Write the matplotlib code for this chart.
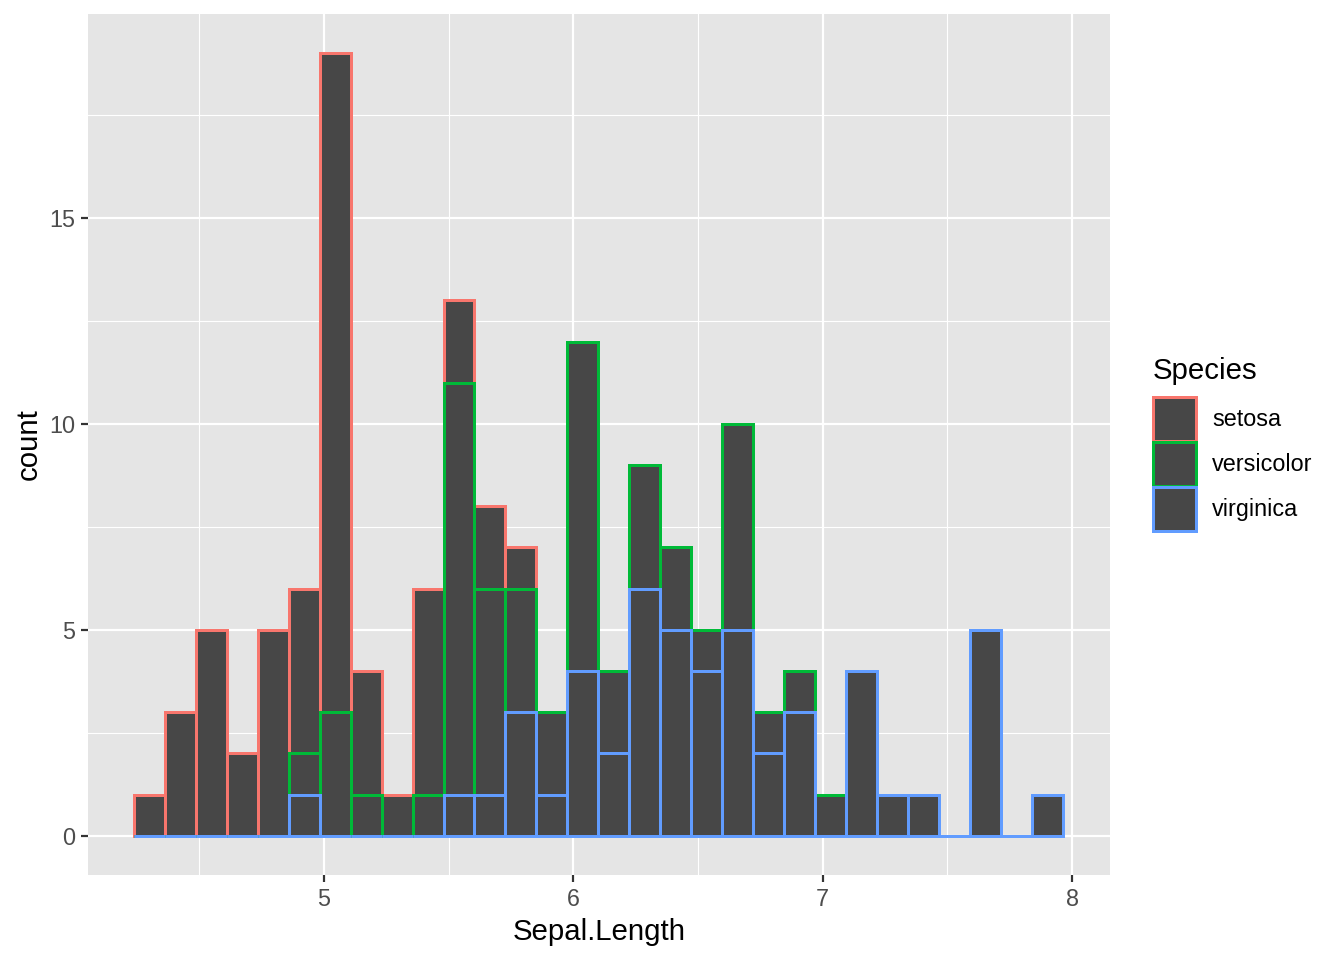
import numpy as np
import matplotlib.pyplot as plt
from matplotlib.patches import Patch

plt.rcParams['font.family'] = ['Liberation Sans', 'DejaVu Sans']

# 30 bins over Sepal.Length, 4.3 .. 7.9 (ggplot default binning)
x_min, x_max, n_bins = 4.3, 7.9, 30
species = ["setosa", "versicolor", "virginica"]
colors = ["#F8766D", "#00BA38", "#619CFF"]

setosa = [1, 3, 5, 2, 5, 4, 16, 3, 1, 5, 2, 2, 1, 0, 0,
          0, 0, 0, 0, 0, 0, 0, 0, 0, 0, 0, 0, 0, 0, 0]
versicolor = [0, 0, 0, 0, 0, 1, 3, 1, 0, 1, 10, 5, 3, 2, 8,
              2, 3, 2, 1, 5, 1, 1, 1, 0, 0, 0, 0, 0, 0, 0]
virginica = [0, 0, 0, 0, 0, 1, 0, 0, 0, 0, 1, 1, 3, 1, 4,
             2, 6, 5, 4, 5, 2, 3, 0, 4, 1, 1, 0, 5, 0, 1]

width = (x_max - x_min) / (n_bins - 1)
centers = x_min + width * np.arange(n_bins)

fig = plt.figure(figsize=(1344 / 144, 960 / 144), dpi=144)
ax = fig.add_axes([88 / 1344, 1 - 875 / 960, (1110 - 88) / 1344, (875 - 14) / 960])
ax.set_facecolor('#E5E5E5')

# stacking: virginica at the bottom, setosa on top
vir = np.array(virginica)
ver = np.array(versicolor)
set_ = np.array(setosa)
bottoms = [vir + ver, vir, np.zeros(n_bins)]
counts = [set_, ver, vir]

for cnt, bot, col in zip(counts, bottoms, colors):
    ax.bar(centers, cnt, bottom=bot, width=width, color='#474747',
           edgecolor=col, linewidth=1.5, zorder=3)

ax.set_xlim(4.0534, 8.1524)
ax.set_ylim(-0.95, 19.95)
ax.set_xticks([5, 6, 7, 8])
ax.set_yticks([0, 5, 10, 15])
ax.set_xticks([4.5, 5.5, 6.5, 7.5], minor=True)
ax.set_yticks([2.5, 7.5, 12.5, 17.5], minor=True)
ax.grid(which='major', color='white', linewidth=1.1, zorder=1)
ax.grid(which='minor', color='white', linewidth=0.55, zorder=1)
ax.set_axisbelow(True)
for s in ax.spines.values():
    s.set_visible(False)
ax.tick_params(which='major', length=3.5, width=1.1, color='#333333',
               labelsize=11.7, labelcolor='#4D4D4D', pad=3)
ax.tick_params(which='minor', length=0)

ax.set_xlabel('Sepal.Length', fontsize=14.7, labelpad=3.5)
ax.set_ylabel('count', fontsize=14.7, labelpad=3)

handles = [Patch(facecolor='#474747', edgecolor=c, linewidth=1.5) for c in colors]
leg = fig.legend(handles, species, title='Species', loc='upper left',
                 bbox_to_anchor=(1153 / 1344, 1 - 357 / 960),
                 frameon=False, fontsize=11.7, title_fontsize=14.7,
                 handlelength=1.84, handleheight=2.5, labelspacing=0.05,
                 handletextpad=0.68, borderpad=0, borderaxespad=0,
                 alignment='left')
leg._legend_box.sep = 6

fig.savefig('out.png', dpi=144)
